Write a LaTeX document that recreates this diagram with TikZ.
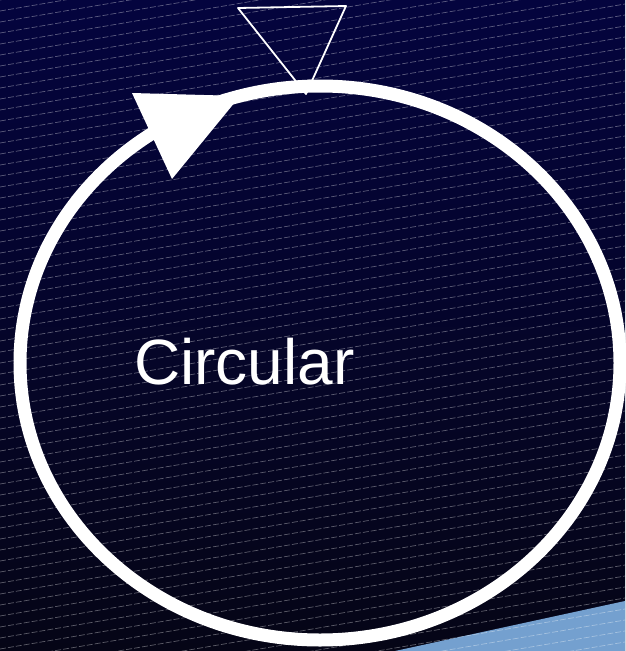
\documentclass[tikz,border=0pt]{standalone}
\usepackage{fontspec}
\setmainfont{Liberation Sans}
\usetikzlibrary{calc}

\definecolor{navytop}{RGB}{4,4,62}
\definecolor{navybot}{RGB}{5,5,22}
\definecolor{paleblue}{RGB}{116,160,207}

\begin{document}
\begin{tikzpicture}[x=1pt,y=-1pt]
  \useasboundingbox (0,0) rectangle (625,651);
  \shade[top color=navytop,bottom color=navybot] (0,0) rectangle (625,651);
  \fill[paleblue] (395,651) -- (625,601) -- (625,651) -- cycle;
  \begin{scope}
    \clip (0,0) rectangle (625,651);
    \foreach \y in {0,11,...,770}
      \draw[white,opacity=0.35,line width=0.7pt,dash pattern=on 6pt off 2pt] (0,\y) -- (625,\y-106);
  \end{scope}
  \draw[white,line width=13pt] (320,363) ellipse [x radius=300,y radius=277];
  \draw[white,line width=1.8pt,line join=round] (238,8) -- (346,6) -- (306,94) -- cycle;
  \fill[white] (132,93) -- (240,96) -- (172,179) -- cycle;
  \node[white,anchor=base west,inner sep=0pt,font=\fontsize{64}{76}\selectfont] (label) at (134,384) {Circular};
\end{tikzpicture}
\end{document}
